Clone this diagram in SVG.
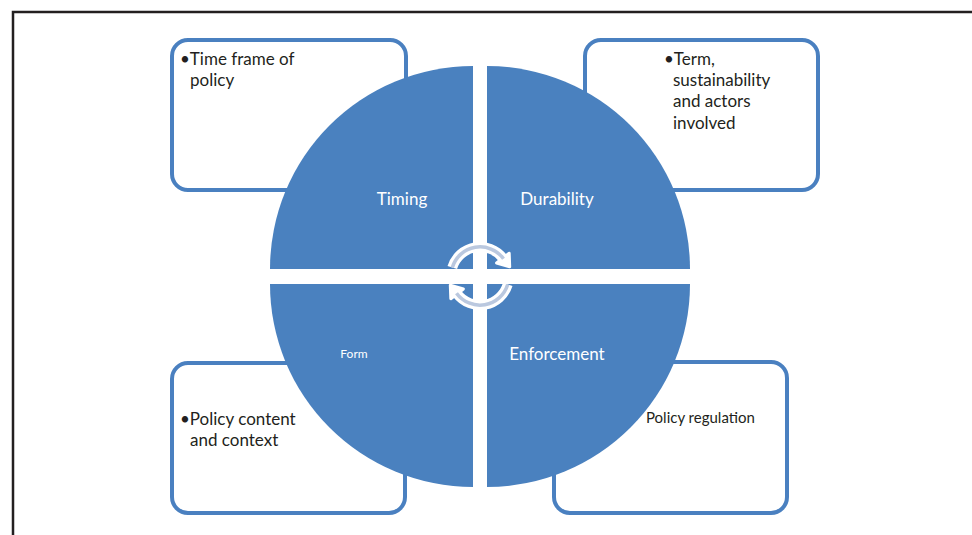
<svg xmlns="http://www.w3.org/2000/svg" width="972" height="535" viewBox="0 0 972 535">
<style>
.box{fill:#fff;stroke:#4a80c0;stroke-width:4}
.q{fill:#4a81bf}
.t{font-family:Lato,"Open Sans",sans-serif;font-size:17px;fill:#231f20}
.w{font-family:Lato,"Open Sans",sans-serif;font-size:17px;fill:#fff;text-anchor:middle}
.arcw{fill:none;stroke:#fff;stroke-width:10}
.arcb{fill:none;stroke:#bac8df;stroke-width:3.5}
</style>
<rect width="972" height="535" fill="#fff"/>
<path d="M13,535 V12 H972" fill="none" stroke="#231f20" stroke-width="2.5"/>
<g id="box-timing"><rect class="box" x="172" y="40" width="234" height="150" rx="16"/>
<text class="t" x="180" y="65">•Time frame of</text><text class="t" x="190" y="86">policy</text></g>
<g id="box-durability"><rect class="box" x="585" y="40" width="233" height="150" rx="16"/>
<text class="t" x="664" y="65">•Term,</text><text class="t" x="673" y="86">sustainability</text><text class="t" x="673" y="107">and actors</text><text class="t" x="673" y="129">involved</text></g>
<g id="box-form"><rect class="box" x="172" y="363" width="233" height="150" rx="16"/>
<text class="t" x="180" y="425">•Policy content</text><text class="t" x="190" y="446">and context</text></g>
<g id="box-enforcement"><rect class="box" x="554" y="362" width="233" height="151" rx="16"/>
<text class="t" x="646" y="423" style="font-size:15px">Policy regulation</text></g>
<g id="q-timing"><path class="q" d="M473,269 H270 A203,203 0 0 1 473,66 Z"/><text class="w" x="402" y="205">Timing</text></g>
<g id="q-durability"><path class="q" d="M487,269 V66 A203,203 0 0 1 690,269 Z"/><text class="w" x="557" y="205">Durability</text></g>
<g id="q-form"><path class="q" d="M473,284 V487 A203,203 0 0 1 270,284 Z"/><text class="w" x="354" y="358" style="font-size:12px">Form</text></g>
<g id="q-enforcement"><path class="q" d="M487,284 H690 A203,203 0 0 1 487,487 Z"/><text class="w" x="557" y="360">Enforcement</text></g>
<g id="connectors">
<path class="arcw" d="M452.3,267.5 A29,29 0 0 1 502.9,258.1"/>
<polygon points="509.2,253.2 496.6,263 509.7,266.8" fill="#fff" stroke="#fff" stroke-width="3" stroke-linejoin="round"/>
<path class="arcb" d="M452.3,267.5 A29,29 0 0 1 503.5,258.8"/>
<path class="arcw" d="M507.7,284.5 A29,29 0 0 1 457.1,293.9"/>
<polygon points="450.8,298.8 463.4,289 450.3,285.2" fill="#fff" stroke="#fff" stroke-width="3" stroke-linejoin="round"/>
<path class="arcb" d="M507.7,284.5 A29,29 0 0 1 456.5,293.2"/>
</g>
</svg>
